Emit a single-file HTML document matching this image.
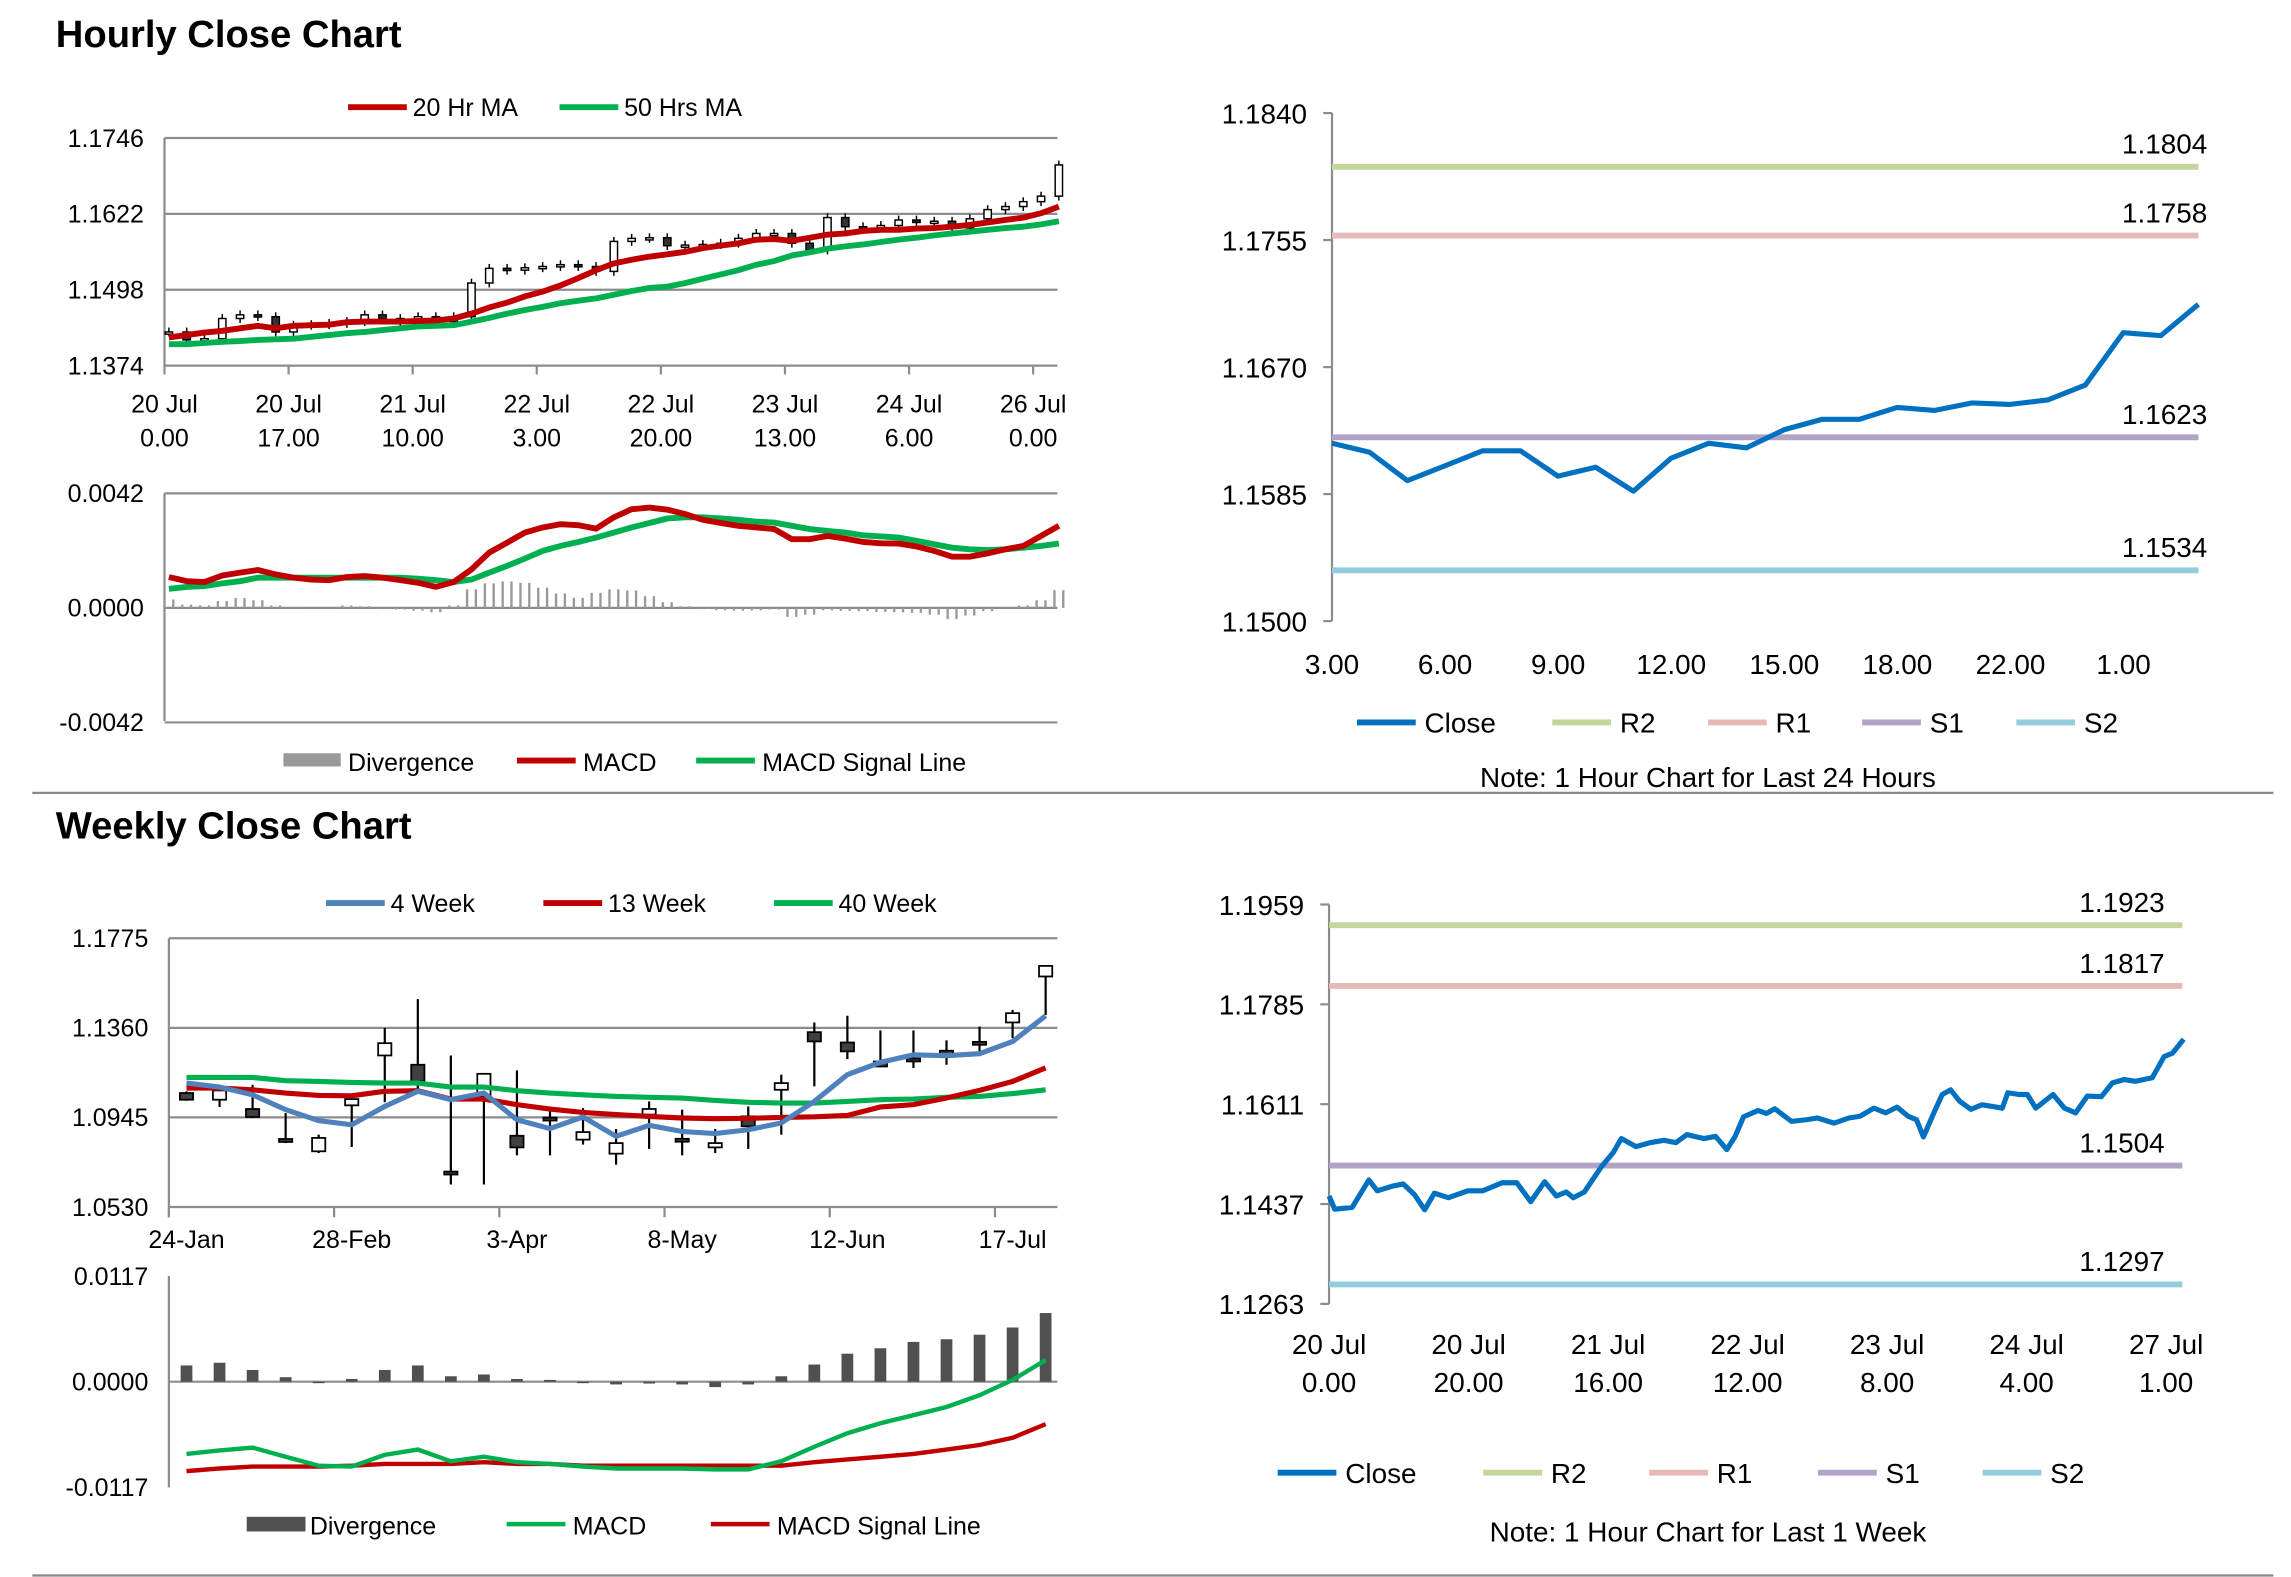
<!DOCTYPE html>
<html><head><meta charset="utf-8"><style>
html,body{margin:0;padding:0;background:#fff;}
svg{display:block;font-family:"Liberation Sans",Arial,sans-serif;}
</style></head><body>
<svg id="root" xmlns="http://www.w3.org/2000/svg" width="2291" height="1577" viewBox="0 0 1560 1074" preserveAspectRatio="none">
<rect width="1560" height="1074" fill="#fff"/>
<text x="38" y="32" font-size="26" font-weight="bold">Hourly Close Chart</text>
<text x="38" y="571" font-size="26" font-weight="bold">Weekly Close Chart</text>
<line x1="22" y1="540" x2="1548" y2="540" stroke="#888" stroke-width="1.5"/>
<line x1="22" y1="1073" x2="1548" y2="1073" stroke="#888" stroke-width="1.5"/>
<g id="g1"></g>
<g id="g2"></g>
<g id="g3"></g>
<g id="g4"></g>
<g id="g5"></g>
<g id="g6"></g>
</svg>
<script>
// ---------- data ----------
const h1Close=[1.1429,1.1416,1.1418,1.1451,1.1457,1.1454,1.1429,1.1440,1.1441,1.1443,1.1446,1.1457,1.1451,1.1446,1.1454,1.1446,1.1454,1.1509,1.1533,1.1530,1.1534,1.1536,1.1539,1.1536,1.1528,1.1577,1.1582,1.1583,1.1570,1.1571,1.1572,1.1574,1.1582,1.1590,1.1590,1.1574,1.1563,1.1616,1.1601,1.1599,1.1603,1.1612,1.1608,1.1610,1.1599,1.1614,1.1629,1.1634,1.1642,1.1651,1.1702];
const h1MA20=[1.1420,1.1424,1.1428,1.1431,1.1435,1.1439,1.1435,1.1439,1.1440,1.1441,1.1445,1.1446,1.1446,1.1446,1.1447,1.1448,1.1451,1.1459,1.1469,1.1477,1.1487,1.1495,1.1505,1.1517,1.1530,1.1541,1.1547,1.1552,1.1556,1.1560,1.1566,1.1570,1.1574,1.1580,1.1581,1.1578,1.1583,1.1588,1.1590,1.1594,1.1596,1.1596,1.1598,1.1599,1.1601,1.1604,1.1608,1.1612,1.1616,1.1623,1.1634];
const h1MA50=[1.1409,1.1409,1.1411,1.1413,1.1414,1.1416,1.1417,1.1418,1.1421,1.1424,1.1427,1.1429,1.1432,1.1435,1.1438,1.1439,1.1440,1.1446,1.1452,1.1459,1.1465,1.1470,1.1476,1.1480,1.1484,1.1490,1.1496,1.1501,1.1503,1.1509,1.1516,1.1523,1.1530,1.1539,1.1545,1.1554,1.1559,1.1565,1.1569,1.1572,1.1576,1.1580,1.1583,1.1587,1.1590,1.1593,1.1596,1.1599,1.1601,1.1605,1.1610];
const h1YTicks=[1.1746,1.1622,1.1498,1.1374];
const h1XLab1=["20 Jul","20 Jul","21 Jul","22 Jul","22 Jul","23 Jul","24 Jul","26 Jul"];
const h1XLab2=["0.00","17.00","10.00","3.00","20.00","13.00","6.00","0.00"];
const h2Macd=[0.00113,0.00098,0.00095,0.00119,0.00129,0.00139,0.00123,0.00111,0.00104,0.00102,0.00113,0.00117,0.00111,0.00102,0.00092,0.00077,0.00095,0.00141,0.00203,0.00239,0.00276,0.00295,0.00307,0.00303,0.00291,0.00332,0.00362,0.00368,0.00360,0.00344,0.00323,0.00311,0.00301,0.00295,0.00289,0.00252,0.00252,0.00264,0.00254,0.00242,0.00237,0.00236,0.00225,0.00209,0.00188,0.00188,0.00200,0.00215,0.00227,0.00264,0.00301];
const h2Signal=[0.00070,0.00077,0.00080,0.00090,0.00098,0.00111,0.00111,0.00111,0.00111,0.00111,0.00111,0.00111,0.00111,0.00111,0.00107,0.00102,0.00095,0.00104,0.00129,0.00154,0.00181,0.00209,0.00227,0.00242,0.00258,0.00276,0.00295,0.00311,0.00328,0.00332,0.00332,0.00328,0.00323,0.00316,0.00313,0.00301,0.00289,0.00282,0.00276,0.00266,0.00262,0.00258,0.00246,0.00233,0.00221,0.00215,0.00212,0.00215,0.00221,0.00227,0.00236];
const h2Div=[0.00031,0.00012,0.00009,0.00025,0.00036,0.00028,0.00009,0.00004,-0.00001,-0.00001,0.00009,0.00006,-0.00004,-0.00006,-0.00010,-0.00016,0.00009,0.00068,0.00090,0.00097,0.00092,0.00074,0.00053,0.00037,0.00055,0.00068,0.00064,0.00043,0.00021,0.00006,-0.00004,-0.00009,-0.00010,-0.00009,-0.00006,-0.00033,-0.00025,-0.00009,-0.00011,-0.00012,-0.00015,-0.00016,-0.00018,-0.00025,-0.00041,-0.00028,-0.00012,0.00004,0.00009,0.00028,0.00065];
const h2YTicks=[0.0042,0.0000,-0.0042];
const dClose=[1.1619,1.1613,1.1594,1.1604,1.1614,1.1614,1.1597,1.1603,1.1587,1.1609,1.1619,1.1616,1.1628,1.1635,1.1635,1.1643,1.1641,1.1646,1.1645,1.1648,1.1658,1.1693,1.1691,1.1712];
const dLevels=[1.1804,1.1758,1.1623,1.1534];
const dYTicks=[1.1840,1.1755,1.1670,1.1585,1.1500];
const dXLab=["3.00","6.00","9.00","12.00","15.00","18.00","22.00","1.00"];
const wOpen=[1.1058,1.1027,1.0984,1.0845,1.0788,1.1001,1.1232,1.1189,1.0694,1.1042,1.0860,1.0944,1.0842,1.0777,1.0958,1.0846,1.0806,1.0950,1.1073,1.1340,1.1292,1.1204,1.1218,1.1254,1.1295,1.1385,1.1598];
const wClose=[1.1027,1.1070,1.0947,1.0836,1.0850,1.1030,1.1289,1.1112,1.0681,1.1147,1.0806,1.0931,1.0877,1.0826,1.0984,1.0833,1.0826,1.0904,1.1104,1.1297,1.1251,1.1181,1.1206,1.1238,1.1286,1.1428,1.1647];
const wHigh=[1.1066,1.1092,1.1096,1.0965,1.0865,1.1030,1.1359,1.1493,1.1232,1.1147,1.1163,1.0981,1.0988,1.0891,1.1019,1.0981,1.0891,1.0996,1.1143,1.1385,1.1416,1.1348,1.1348,1.1302,1.1366,1.1443,1.1647];
const wLow=[1.1022,1.0993,1.0942,1.0826,1.0780,1.0808,1.1015,1.1073,1.0634,1.0634,1.0769,1.0769,1.0819,1.0726,1.0799,1.0769,1.0780,1.0799,1.0865,1.1089,1.1215,1.1177,1.1174,1.1189,1.1243,1.1312,1.1420];
const w4=[1.1104,1.1086,1.1050,1.0981,1.0930,1.0911,1.0996,1.1066,1.1027,1.1058,1.0934,1.0893,1.0947,1.0857,1.0908,1.0880,1.0870,1.0888,1.0919,1.1019,1.1143,1.1200,1.1235,1.1231,1.1240,1.1297,1.1416];
const w13=[1.1081,1.1081,1.1073,1.1058,1.1047,1.1045,1.1066,1.1069,1.1030,1.1030,1.1004,1.0984,1.0968,1.0958,1.0950,1.0942,1.0939,1.0941,1.0945,1.0948,1.0954,1.0993,1.1004,1.1035,1.1070,1.1112,1.1174];
const w40=[1.1130,1.1130,1.1130,1.1115,1.1112,1.1107,1.1104,1.1104,1.1086,1.1086,1.1069,1.1058,1.1050,1.1042,1.1038,1.1035,1.1024,1.1015,1.1012,1.1012,1.1019,1.1027,1.1030,1.1038,1.1042,1.1055,1.1073];
const wYTicks=[1.1775,1.1360,1.0945,1.0530];
const wXLab=["24-Jan","28-Feb","3-Apr","8-May","12-Jun","17-Jul"];
const wDiv=[0.0018,0.0021,0.0013,0.0005,0.0000,0.0003,0.0013,0.0018,0.0006,0.0008,0.0003,0.0002,0.0000,-0.0003,-0.0002,-0.0003,-0.0006,-0.0003,0.0006,0.0019,0.0031,0.0037,0.0044,0.0047,0.0052,0.0060,0.0076];
const wMacd=[-0.0080,-0.0076,-0.0073,-0.0083,-0.0093,-0.0094,-0.0081,-0.0075,-0.0088,-0.0083,-0.0089,-0.0091,-0.0094,-0.0096,-0.0096,-0.0096,-0.0097,-0.0097,-0.0088,-0.0072,-0.0057,-0.0046,-0.0037,-0.0028,-0.0015,0.0002,0.0024];
const wSignal=[-0.0099,-0.0096,-0.0094,-0.0094,-0.0094,-0.0093,-0.0091,-0.0091,-0.0091,-0.0089,-0.0091,-0.0091,-0.0093,-0.0093,-0.0093,-0.0093,-0.0093,-0.0093,-0.0093,-0.0089,-0.0086,-0.0083,-0.0080,-0.0075,-0.0070,-0.0062,-0.0047];
const w2YTicks=[0.0117,0.0000,-0.0117];
const kHours=[0,0.8,3.3,5.7,6.9,9.0,10.6,12.2,13.7,15.1,17.1,19.9,22.0,24.8,26.9,28.9,30.9,32.6,34.0,35.0,36.6,39.1,40.7,41.9,44.0,46.0,48.0,49.7,51.3,53.7,55.4,57.0,58.2,59.4,61.5,62.7,63.9,66.3,68.4,70.0,72.4,74.5,76.1,78.1,79.8,81.4,83.0,84.2,85.2,86.7,87.9,89.1,90.4,92.0,93.6,95.2,96.5,97.3,98.9,100.1,101.3,103.8,105.4,107.0,108.7,110.7,112.3,114.0,115.6,118.0,119.7,120.9,122.5];
const kClose=[1.1451,1.1428,1.1431,1.1479,1.1460,1.1468,1.1472,1.1454,1.1427,1.1456,1.1448,1.1460,1.1460,1.1474,1.1474,1.1441,1.1476,1.1451,1.1458,1.1448,1.1458,1.1503,1.1526,1.1551,1.1537,1.1544,1.1548,1.1544,1.1558,1.1551,1.1555,1.1532,1.1555,1.1589,1.1600,1.1595,1.1603,1.1581,1.1584,1.1587,1.1578,1.1587,1.1590,1.1604,1.1596,1.1606,1.1590,1.1584,1.1554,1.1596,1.1628,1.1636,1.1616,1.1602,1.1610,1.1607,1.1604,1.1631,1.1628,1.1628,1.1604,1.1628,1.1604,1.1596,1.1625,1.1624,1.1648,1.1654,1.1651,1.1657,1.1694,1.1700,1.1724];
const kLevels=[1.1923,1.1817,1.1504,1.1297];
const kYTicks=[1.1959,1.1785,1.1611,1.1437,1.1263];
const kXHours=[0,20,40,60,80,100,120];
const kXLab1=["20 Jul","20 Jul","21 Jul","22 Jul","23 Jul","24 Jul","27 Jul"];
const kXLab2=["0.00","20.00","16.00","12.00","8.00","4.00","1.00"];
const levelNames=["R2","R1","S1","S2"];
const levelColors=["#C3D69B","#E6B9B8","#B3A2C7","#93CDDD"];

// ---------- helpers ----------
const NS='http://www.w3.org/2000/svg';
function mk(tag,attrs,parent){const e=document.createElementNS(NS,tag);for(const k in attrs)e.setAttribute(k,attrs[k]);parent.appendChild(e);return e;}
function txt(parent,x,y,s,anchor,size){const e=mk('text',{x:x,y:y,'text-anchor':anchor||'middle','font-size':size||17,fill:'#000'},parent);e.textContent=s;return e;}
function pts(xs,ys){return xs.map((x,i)=>x.toFixed(1)+','+ys[i].toFixed(1)).join(' ');}
const GRID='#8c8c8c';

// ---------- chart 1: hourly candles ----------
(function(){
const g=document.getElementById('g1');
const x=i=>115+i*12.12, y=v=>94+(1.1746-v)/0.0372*155;
h1YTicks.forEach(v=>{
 const l=mk('line',{x1:112,x2:720,y1:y(v),y2:y(v),stroke:GRID,'stroke-width':1.5},g);
 
 
 const t=txt(g,98,y(v)+6,v.toFixed(4),'end');
 
 
});
const ax=mk('line',{x1:112,x2:112,y1:94,y2:249,stroke:GRID,'stroke-width':1.5},g);


h1XLab1.forEach((s,i)=>{
 const xx=112+i*84.5;
 const tk=mk('line',{x1:xx,x2:xx,y1:249,y2:255,stroke:GRID,'stroke-width':1.5},g);
 
 
 const t=txt(g,xx,281,s);
 
 
 const t2=txt(g,xx,304,h1XLab2[i]);
 
 
});
h1Close.forEach((c,i)=>{
 const o=i?h1Close[i-1]:c;
 const top=y(Math.max(o,c)),bot=y(Math.min(o,c));
 const w=mk('line',{x1:x(i),x2:x(i),y1:top-3,y2:bot+3,stroke:'#000','stroke-width':1},g);
 
 
 const b=mk('rect',{x:x(i)-2.5,y:top,width:5,height:Math.max(1.5,bot-top),fill:c>=o?'#fff':'#333',stroke:'#000','stroke-width':1},g);
 
 
});
const m50=mk('polyline',{points:pts(h1MA50.map((v,i)=>x(i)),h1MA50.map(y)),fill:'none',stroke:'#00B050','stroke-width':4},g);


const m20=mk('polyline',{points:pts(h1MA20.map((v,i)=>x(i)),h1MA20.map(y)),fill:'none',stroke:'#C00000','stroke-width':4},g);


[[237,'#C00000','20 Hr MA'],[381,'#00B050','50 Hrs MA']].forEach(d=>{
 const l=mk('line',{x1:d[0],x2:d[0]+40,y1:73,y2:73,stroke:d[1],'stroke-width':4},g);
 
 
 const t=txt(g,d[0]+44,79,d[2],'start');
 
 
});
})();

// ---------- chart 2: hourly MACD ----------
(function(){
const g=document.getElementById('g2');
const x=i=>115+i*12.12, y=v=>414-v/0.0042*78;
h2YTicks.forEach(v=>{
 const l=mk('line',{x1:112,x2:720,y1:y(v),y2:y(v),stroke:GRID,'stroke-width':1.5},g);
 
 
 const t=txt(g,98,y(v)+6,v.toFixed(4),'end');
 
 
});
const ax=mk('line',{x1:112,x2:112,y1:336,y2:491,stroke:GRID,'stroke-width':1.5},g);


h2Div.forEach((v,i)=>{
 [-3,3].forEach(d=>{
  const b=mk('rect',{x:x(i)+d-0.8,y:Math.min(y(0),y(v)),width:1.6,height:Math.abs(y(v)-y(0)),fill:'#999'},g);
  
  
 });
});
const s=mk('polyline',{points:pts(h2Signal.map((v,i)=>x(i)),h2Signal.map(y)),fill:'none',stroke:'#00B050','stroke-width':4},g);


const m=mk('polyline',{points:pts(h2Macd.map((v,i)=>x(i)),h2Macd.map(y)),fill:'none',stroke:'#C00000','stroke-width':4},g);


const r=mk('rect',{x:193,y:513,width:39,height:9,fill:'#999'},g);


[[237,'Divergence'],[397,'MACD'],[519,'MACD Signal Line']].forEach(d=>{
 const t=txt(g,d[0],525,d[1],'start');
 
 
});
[[352,'#C00000'],[474,'#00B050']].forEach(d=>{
 const l=mk('line',{x1:d[0],x2:d[0]+40,y1:518,y2:518,stroke:d[1],'stroke-width':4},g);
 
 
});
})();

// ---------- generic close+levels chart ----------
function levelChart(g,xOf,xs,vals,levels,yT,x0,x1,yTop,yBot,vTop,vBot,xLabs,xLabs2,xLabY,legY,legXs,note,noteY,labX){
 const y=v=>yTop+(vTop-v)/(vTop-vBot)*(yBot-yTop);
 const ax=mk('line',{x1:x0,x2:x0,y1:yTop,y2:yBot,stroke:GRID,'stroke-width':1.5},g);
 
 
 yT.forEach(v=>{
  const tk=mk('line',{x1:x0-6,x2:x0,y1:y(v),y2:y(v),stroke:GRID,'stroke-width':1.5},g);
  
  
  const t=txt(g,x0-17,y(v)+7,v.toFixed(4),'end',19);
  
  
 });
 levels.forEach((v,i)=>{
  const l=mk('line',{x1:x0,x2:x1,y1:y(v),y2:y(v),stroke:levelColors[i],'stroke-width':4},g);
  
  
  const t=txt(g,labX,y(v)-9,v.toFixed(4),'end',19);
  
  
 });
 const c=mk('polyline',{points:pts(xs.map(xOf),vals.map(y)),fill:'none',stroke:'#0070C0','stroke-width':3.5,'stroke-linejoin':'round'},g);
 
 
 xLabs.forEach((d,i)=>{
  const t=txt(g,d[0],xLabY,d[1],'middle',19);
  
  
  if(xLabs2){const t2=txt(g,d[0],xLabY+26,xLabs2[i],'middle',19);
  
  }
 });
 const names=['Close'].concat(levelNames), cols=['#0070C0'].concat(levelColors);
 legXs.forEach((lx,i)=>{
  const l=mk('line',{x1:lx,x2:lx+40,y1:legY,y2:legY,stroke:cols[i],'stroke-width':4},g);
  
  
  const t=txt(g,lx+46,legY+7,names[i],'start',19);
  
  
 });
 const n=txt(g,1163,noteY,note,'middle',19);
 
 
}
(function(){
const g=document.getElementById('g3');
const idx=dClose.map((v,i)=>i);
levelChart(g,i=>907+i*25.65,idx,dClose,dLevels,dYTicks,907,1497,77,423,1.1840,1.1500,
 dXLab.map((s,i)=>[907+i*77,s]),null,459,492,[924,1057,1163,1268,1373],'Note: 1 Hour Chart for Last 24 Hours',536,1503);
})();
(function(){
const g=document.getElementById('g6');
levelChart(g,h=>905+h*4.75,kHours,kClose,kLevels,kYTicks,905,1486,616,888,1.1959,1.1263,
 kXHours.map((h,i)=>[905+h*4.75,kXLab1[i]]),kXLab2,922,1003,[870,1010,1123,1238,1350],'Note: 1 Hour Chart for Last 1 Week',1050,1474);
})();

// ---------- chart 4: weekly candles ----------
(function(){
const g=document.getElementById('g4');
const x=i=>127+i*22.5, y=v=>639+(1.1775-v)/0.1245*183;
wYTicks.forEach(v=>{
 const l=mk('line',{x1:115,x2:720,y1:y(v),y2:y(v),stroke:GRID,'stroke-width':1.5},g);
 
 
 const t=txt(g,101,y(v)+6,v.toFixed(4),'end');
 
 
});
const ax=mk('line',{x1:115,x2:115,y1:639,y2:829,stroke:GRID,'stroke-width':1.5},g);


wXLab.forEach((s,i)=>{
 const tx=115+i*112.5;
 const tk=mk('line',{x1:tx,x2:tx,y1:822,y2:829,stroke:GRID,'stroke-width':1.5},g);
 
 
 const t=txt(g,x(i*5),850,s);
 
 
});
wOpen.forEach((o,i)=>{
 const c=wClose[i];
 const w=mk('line',{x1:x(i),x2:x(i),y1:y(wHigh[i]),y2:y(wLow[i]),stroke:'#000','stroke-width':1.5},g);
 
 
 const top=y(Math.max(o,c)),bot=y(Math.min(o,c));
 const b=mk('rect',{x:x(i)-4.5,y:top,width:9,height:Math.max(2,bot-top),fill:c>=o?'#fff':'#404040',stroke:'#000','stroke-width':1.2},g);
 
 
});
[[w40,'#00B050','ma40-line'],[w13,'#C00000','ma13-line'],[w4,'#4F81BD','ma4-line']].forEach(d=>{
 const p=mk('polyline',{points:pts(d[0].map((v,i)=>x(i)),d[0].map(y)),fill:'none',stroke:d[1],'stroke-width':3.5},g);
 
 
});
[[222,'#4F81BD','4 Week'],[370,'#C00000','13 Week'],[527,'#00B050','40 Week']].forEach(d=>{
 const l=mk('line',{x1:d[0],x2:d[0]+40,y1:615,y2:615,stroke:d[1],'stroke-width':4},g);
 
 
 const t=txt(g,d[0]+44,621,d[2],'start');
 
 
});
})();

// ---------- chart 5: weekly MACD ----------
(function(){
const g=document.getElementById('g5');
const x=i=>127+i*22.5, y=v=>941-v/0.0117*72;
w2YTicks.forEach(v=>{
 const t=txt(g,101,y(v)+6,v.toFixed(4),'end');
 
 
});
const z=mk('line',{x1:115,x2:720,y1:y(0),y2:y(0),stroke:GRID,'stroke-width':1.5},g);


const ax=mk('line',{x1:115,x2:115,y1:869,y2:1013,stroke:GRID,'stroke-width':1.5},g);


wDiv.forEach((v,i)=>{
 const b=mk('rect',{x:x(i)-4,y:Math.min(y(0),y(v)),width:8,height:Math.max(1,Math.abs(y(v)-y(0))),fill:'#505050'},g);
 
 
});
const s=mk('polyline',{points:pts(wSignal.map((v,i)=>x(i)),wSignal.map(y)),fill:'none',stroke:'#C00000','stroke-width':3},g);


const m=mk('polyline',{points:pts(wMacd.map((v,i)=>x(i)),wMacd.map(y)),fill:'none',stroke:'#00B050','stroke-width':3},g);


const r=mk('rect',{x:168,y:1033,width:40,height:10,fill:'#505050'},g);


[[345,'#00B050'],[484,'#C00000']].forEach(d=>{
 const l=mk('line',{x1:d[0],x2:d[0]+40,y1:1038,y2:1038,stroke:d[1],'stroke-width':3},g);
 
 
});
[[211,'Divergence'],[390,'MACD'],[529,'MACD Signal Line']].forEach(d=>{
 const t=txt(g,d[0],1045,d[1],'start');
 
 
});
})();
</script>
</body></html>
